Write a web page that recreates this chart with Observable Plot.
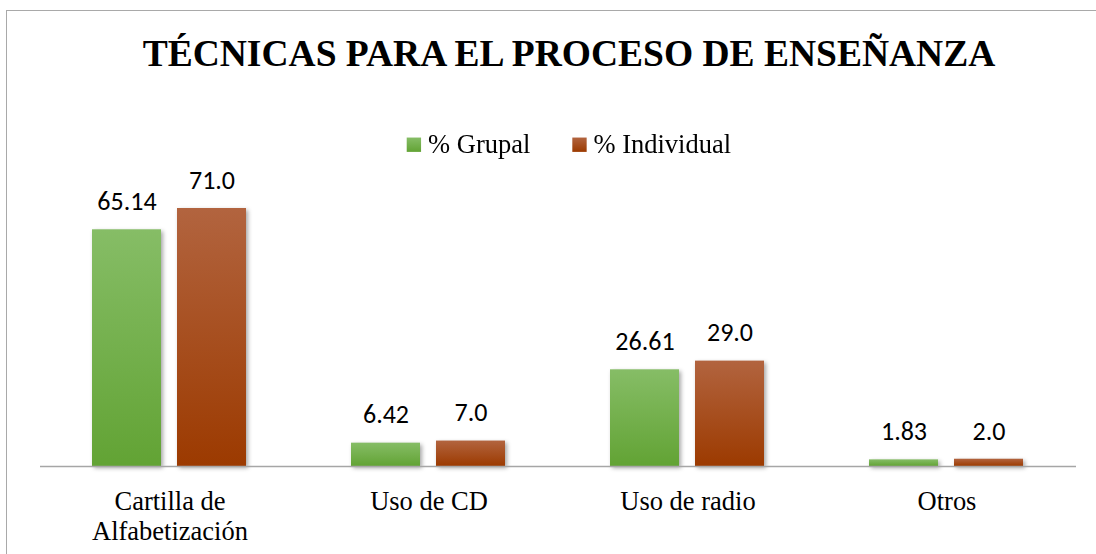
<!DOCTYPE html>
<html>
<head>
<meta charset="utf-8">
<script src="https://cdn.jsdelivr.net/npm/d3@7"></script>
<script src="https://cdn.jsdelivr.net/npm/@observablehq/plot@0.6"></script>
<style>
  html, body { margin: 0; padding: 0; background: #fff; color: #000; }
  #wrap { position: relative; width: 1096px; height: 554px; overflow: hidden; }
  #frame { position: absolute; left: 6px; top: 10px; width: 1300px; height: 800px; border: 1.5px solid #a9a9a9; box-sizing: border-box; }
  #header { position: relative; height: 160px; }
  #title { position: absolute; left: 0; width: 1138px; top: 35px; text-align: center; font-family: 'Liberation Serif'; font-weight: bold; font-size: 37.5px; line-height: 38px; white-space: nowrap; }
  #legend { position: absolute; left: 0; width: 1138px; top: 133px; display: flex; justify-content: center; font-family: 'Liberation Serif'; font-weight: normal; font-size: 24px; line-height: 24px; white-space: nowrap; transform: scale(1.104); transform-origin: 569px 20px; }
  .item { display: inline-block; font-family: 'Liberation Serif'; }
  .item + .item { margin-left: 38px; }
  .sw { display: inline-block; width: 12.7px; height: 12.7px; margin-right: 6.5px; vertical-align: 1px; }
  #chart { position: relative; }
  .bar rect { filter: drop-shadow(2px 2px 2px rgba(0,0,0,0.35)); }
</style>
</head>
<body>
<div id="wrap">
  <div id="frame"></div>
  <div id="header">
    <div id="title"></div>
    <div id="legend"></div>
  </div>
  <div id="chart"></div>
</div>
<script>
const titleText = "TÉCNICAS PARA EL PROCESO DE ENSEÑANZA";
const categories = ["Cartilla de\nAlfabetización", "Uso de CD", "Uso de radio", "Otros"];
const series = ["% Grupal", "% Individual"];
const grupal = [65.14, 6.42, 26.61, 1.83];
const individual = [71.0, 7.0, 29.0, 2.0];
const seriesColors = [["#86bd66", "#62a334"], ["#b2643f", "#9c3a00"]];
const gradientIds = ["gGreen", "gRed"];
const labelScale = 1.104; // 24px rendered, scaled to ~26.5px

document.getElementById("title").textContent = titleText;
const legend = document.getElementById("legend");
series.forEach((s, i) => {
  const item = document.createElement("span");
  item.className = "item";
  const sw = document.createElement("span");
  sw.className = "sw";
  sw.style.background = `linear-gradient(${seriesColors[i][0]}, ${seriesColors[i][1]})`;
  item.appendChild(sw);
  item.appendChild(document.createTextNode(s));
  legend.appendChild(item);
});

const rows = [];
categories.forEach((c, i) => {
  rows.push({cat: c, series: series[0], value: grupal[i], label: grupal[i].toFixed(2)});
  rows.push({cat: c, series: series[1], value: individual[i], label: individual[i].toFixed(1)});
});

const svg = Plot.plot({
  width: 1096,
  height: 394,
  marginLeft: 40,
  marginRight: 20,
  marginTop: 48,
  marginBottom: 88,
  style: {fontFamily: "Liberation Serif", background: "transparent", overflow: "visible"},
  fx: {domain: categories, padding: 0, label: null},
  x: {domain: series, paddingInner: 0.186, paddingOuter: 0.6, axis: null},
  y: {domain: [0, 71], axis: null},
  marks: [
    Plot.barY(rows.filter(d => d.series === series[0]), {fx: "cat", x: "series", y: "value", fill: `url(#${gradientIds[0]})`, className: "bar"}),
    Plot.barY(rows.filter(d => d.series === series[1]), {fx: "cat", x: "series", y: "value", fill: `url(#${gradientIds[1]})`, className: "bar"}),
    Plot.ruleY([0], {stroke: "#a6a6a6", strokeWidth: 1.5}),
    Plot.text(rows, {fx: "cat", x: "series", y: "value", text: "label", lineAnchor: "middle", dy: -28, fontSize: 26, fontFamily: "Carlito", fill: "#000"}),
    Plot.axisFx({anchor: "bottom", tickSize: 0, tickPadding: 22, fontSize: 24, lineHeight: 1.13, fontFamily: "Liberation Serif", fill: "#000", label: null, className: "catlabels"})
  ]
});

const defs = d3.select(svg).insert("defs", ":first-child");
gradientIds.forEach((id, i) => {
  const g = defs.append("linearGradient").attr("id", id).attr("x1", 0).attr("y1", 0).attr("x2", 0).attr("y2", 1);
  g.append("stop").attr("offset", "0%").attr("stop-color", seriesColors[i][0]);
  g.append("stop").attr("offset", "100%").attr("stop-color", seriesColors[i][1]);
});

// enlarge category labels around their anchor (the font is drawn at 24px and scaled)
d3.select(svg).selectAll(".catlabels text").each(function () {
  const el = d3.select(this);
  const t = el.attr("transform");
  if (t) {
    el.attr("transform", t + ` scale(${labelScale})`);
  } else {
    const x = +el.attr("x") || 0, y = +el.attr("y") || 0;
    el.attr("x", null).attr("y", null).attr("transform", `translate(${x},${y}) scale(${labelScale})`);
  }
});

document.getElementById("chart").appendChild(svg);
</script>
</body>
</html>
